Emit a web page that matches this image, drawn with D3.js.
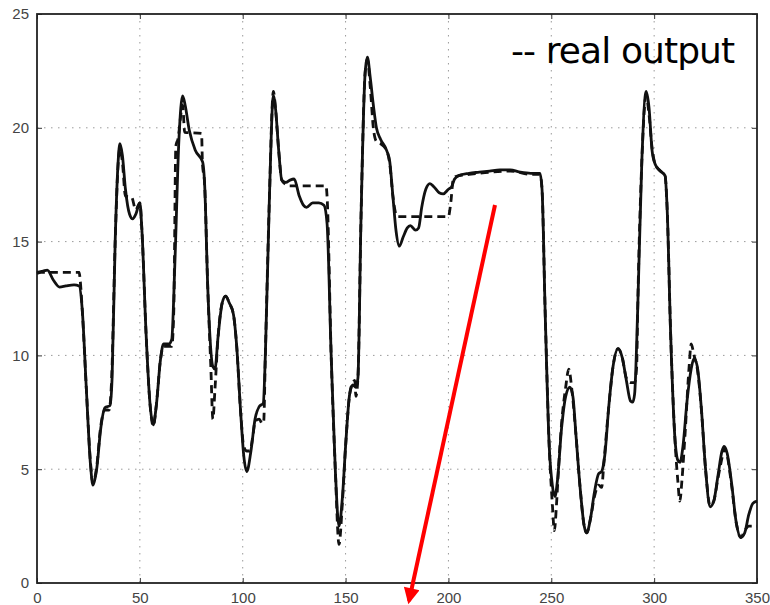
<!DOCTYPE html>
<html>
<head>
<meta charset="utf-8">
<script src="https://cdn.jsdelivr.net/npm/d3@7"></script>
<style>
  html, body { margin: 0; padding: 0; background: #fff; }
  svg { display: block; }
</style>
</head>
<body>
<svg id="chart" width="770" height="605"></svg>
<script>
// Axis ticks
const xTicks = [0, 50, 100, 150, 200, 250, 300, 350];
const yTicks = [0, 5, 10, 15, 20, 25];

// Model output (solid line): [time step, value]
const modelOutput = [
  [0,13.65],[3,13.7],[5,13.75],[8,13.3],[11,13.0],[14,13.05],[18,13.1],[20.5,13.05],
  [22,12.0],[24,8.5],[26,5.2],[27.2,4.3],[29,5.0],[31,6.8],[33,7.7],[35.5,7.8],
  [36.5,9],[38,15],[39.5,18.6],[40.3,19.3],[41.5,18.8],[43,17.3],[45,16.2],[46.5,16.0],
  [48,16.2],[50,16.7],[51,15.5],[53,11],[55,7.8],[56.5,6.95],[58,7.8],[60,9.8],
  [61.5,10.5],[64,10.5],[65.5,10.7],[67,14],[69,19.5],[70.8,21.4],[72,21.0],[74,19.9],
  [77,19.0],[80.5,18.5],[81.5,17.5],[83,13],[85.5,9.5],[86.5,9.4],[88,10.8],[90,12.3],
  [91.7,12.6],[93.5,12.3],[95.5,11.8],[97,10.5],[99,7.5],[100.5,5.6],[102,4.9],[104,5.8],
  [106,7.2],[108,7.75],[110,7.9],[111,10],[113,17],[114.9,21.4],[116,20.8],[117.5,19.0],
  [119,17.7],[121,17.6],[123,17.7],[125,17.75],[127.5,17.0],[129.5,16.6],[131,16.5],
  [134,16.7],[137,16.7],[139.5,16.6],[141,15.8],[143,10],[145,5],[146.8,2.5],[148.5,3.8],
  [150,6],[152,8.3],[153.5,8.7],[155,8.6],[156,9],[157.5,16],[159.5,22.4],[160.6,23.1],
  [162,22.2],[163.5,21.0],[165,20.0],[167,19.5],[170,19.0],[171.5,18.5],[173,17],
  [174.5,15.5],[176.1,14.8],[178,15.2],[180,15.6],[181.5,15.7],[184,15.5],[185.5,15.6],
  [187,16.5],[189,17.3],[191,17.55],[193,17.4],[195.5,17.15],[197.5,17.1],[200,17.3],
  [201.5,17.4],[203,17.75],[205,17.9],[210,18.0],[215,18.05],[220,18.1],[225,18.15],
  [230,18.15],[235,18.05],[240,18.0],[244.5,18.0],[245.5,17.3],[247,12],[249,6],
  [250.5,4.3],[251.8,3.8],[253,4.5],[255,6.8],[257,8.2],[259,8.6],[260.5,8.2],[262,6.5],
  [264,4.2],[266,2.5],[267.2,2.2],[269,2.8],[271,4.0],[273,4.8],[274.5,4.9],[276,5.6],
  [278,7.8],[280,9.5],[282.5,10.3],[284.5,9.9],[286.5,8.9],[288.5,8.0],[289.6,7.95],
  [290.5,8.3],[292,12],[294,18.5],[296.1,21.6],[297.5,20.9],[299,19.0],[300.5,18.4],
  [303,18.1],[305.3,17.9],[306.3,16.5],[308,11],[310,6.5],[311.5,5.4],[312.6,5.3],
  [314,6.0],[316,8.0],[318,9.4],[319.4,9.87],[321,9.5],[323,7.6],[325,5.0],[327.2,3.35],
  [329,3.6],[331,4.7],[333,5.8],[334,6.0],[335.5,5.7],[337.5,4.5],[340,2.6],[342.1,2.0],
  [344,2.2],[346,3.0],[348,3.5],[350,3.6]
];

// Real output (dashed line): [time step, value]
const realOutput = [
  [0,13.6],[2,13.65],[20.5,13.65],[21,13.3],[22,12.0],[24,8.5],[26,5.3],[27.2,4.4],
  [29,5.1],[31,6.9],[33,7.6],[35,7.6],[36.3,9],[38,15],[39.5,18.5],[40.3,19.1],
  [41.5,18.5],[43,17.0],[46,16.95],[48,16.4],[50,16.7],[51,15.5],[53,11],[55,7.8],
  [56.5,6.9],[58,7.8],[60,9.8],[61.5,10.4],[65.5,10.4],[66.5,12],[67.5,19.2],[68.5,19.5],
  [70.8,21.0],[71.8,19.8],[80,19.75],[80.4,18.5],[81.5,17.5],[83,13],[84.5,9.5],
  [85.5,7.2],[86.5,8.5],[88,10.8],[90,12.3],[91.7,12.6],[93.5,12.3],[95.5,11.8],
  [97,10.5],[99,7.5],[100.5,6.0],[102,5.8],[103.5,5.8],[105,6.5],[106,7.1],[108,7.2],
  [109.5,7.0],[110.2,7.1],[111,10],[113,17],[114.9,21.6],[116,20.8],[117.5,19.0],
  [119,17.7],[121,17.5],[122,17.45],[140.5,17.45],[141,17.0],[143,10],[145,5],
  [146.8,1.7],[148.5,3.6],[150,6],[152,8.3],[153.5,8.8],[154.5,8.9],[155,8.2],[156,9],
  [157.5,16],[159.5,22.4],[160.6,23.0],[162,21.8],[163.5,20.0],[165,19.4],[167,19.3],
  [170,19.0],[171.5,18.4],[173,17],[174.5,16.2],[175.5,16.1],[200,16.1],[201,16.6],
  [202.5,17.8],[205,17.9],[210,17.95],[220,18.05],[230,18.1],[240,17.95],[244.5,17.95],
  [245.5,17.3],[247,12],[249,6],[250.5,3.5],[251.5,2.3],[252.5,3.4],[253.5,5],[255,7.0],
  [257,8.6],[258.5,9.4],[260,8.5],[262,6.5],[264,4.2],[266,2.5],[267.2,2.2],[269,2.8],
  [271,3.8],[273,4.3],[274.5,4.2],[275.5,5.2],[278,7.8],[280,9.5],[282.5,10.3],
  [284.5,9.9],[286.5,9.0],[288.5,8.8],[290.5,8.8],[291.5,9.5],[292,12],[294,18.5],
  [296.1,21.4],[297.5,20.6],[299,19.1],[300.5,18.4],[303,18.1],[305.3,17.9],[306.3,16.5],
  [308,11],[310,6.5],[311.5,4.5],[312.5,3.6],[313.5,4.5],[315,6.5],[317,9.5],[318,10.5],
  [319.4,10.0],[321,9.4],[323,7.6],[325,5.0],[327.2,3.4],[329,3.6],[331,4.6],[333,5.5],
  [334,5.9],[335.5,5.6],[337.5,4.4],[340,2.6],[342.1,2.0],[344,2.3],[346,2.5],[350,2.5]
];

const legendText = "-- real output";

const svg = d3.select("#chart");
const plot = { left: 37, right: 757, top: 14, bottom: 583 };

const x = d3.scaleLinear().domain([0, 350]).range([plot.left, plot.right]);
const y = d3.scaleLinear().domain([0, 25]).range([plot.bottom, plot.top]);

// Dotted grid at the interior ticks
const grid = svg.append("g").attr("stroke", "#9a9a9a").attr("stroke-width", 1)
  .attr("stroke-dasharray", "1.5,5.5");
grid.selectAll("line.gx").data(xTicks.filter(d => d > 0 && d < 350)).join("line")
  .attr("x1", d => x(d)).attr("x2", d => x(d))
  .attr("y1", plot.top).attr("y2", plot.bottom);
grid.selectAll("line.gy").data(yTicks.filter(d => d > 0 && d < 25)).join("line")
  .attr("y1", d => y(d)).attr("y2", d => y(d))
  .attr("x1", plot.left).attr("x2", plot.right);

// Axes with inward ticks on all four sides
function styleAxis(g) {
  g.select(".domain").remove();
  g.selectAll(".tick line").attr("stroke", "#333").attr("stroke-width", 1);
  g.selectAll(".tick text").attr("fill", "#444")
    .style("font-family", "'Liberation Sans', Arial, sans-serif").style("font-size", "15px");
}
svg.append("g").attr("transform", `translate(0,${plot.bottom})`)
  .call(d3.axisBottom(x).tickValues(xTicks).tickSize(-5).tickPadding(9))
  .call(styleAxis);
svg.append("g").attr("transform", `translate(0,${plot.top})`)
  .call(d3.axisTop(x).tickValues(xTicks).tickSize(-5).tickFormat(""))
  .call(styleAxis);
svg.append("g").attr("transform", `translate(${plot.left},0)`)
  .call(d3.axisLeft(y).tickValues(yTicks).tickSize(-5).tickPadding(8))
  .call(styleAxis);
svg.append("g").attr("transform", `translate(${plot.right},0)`)
  .call(d3.axisRight(y).tickValues(yTicks).tickSize(-5).tickFormat(""))
  .call(styleAxis);

// Frame
svg.append("rect")
  .attr("x", plot.left).attr("y", plot.top)
  .attr("width", plot.right - plot.left).attr("height", plot.bottom - plot.top)
  .attr("fill", "none").attr("stroke", "#222").attr("stroke-width", 1.8);

const line = d3.line().x(d => x(d[0])).y(d => y(d[1])).curve(d3.curveMonotoneX);

svg.append("path").datum(realOutput)
  .attr("d", line).attr("fill", "none").attr("stroke", "#111")
  .attr("stroke-width", 2.8).attr("stroke-dasharray", "8,5")
  .attr("stroke-linejoin", "round");

svg.append("path").datum(modelOutput)
  .attr("d", line).attr("fill", "none").attr("stroke", "#111")
  .attr("stroke-width", 2.8).attr("stroke-linejoin", "round");

// Legend label
svg.append("text")
  .attr("x", 511).attr("y", 63)
  .style("font-family", "'DejaVu Sans', Verdana, sans-serif").style("font-size", "36px")
  .style("letter-spacing", "-0.9px")
  .attr("fill", "#000")
  .text(legendText);

// Red pointer arrow
const defs = svg.append("defs");
defs.append("marker").attr("id", "arrowhead")
  .attr("viewBox", "0 0 10 10").attr("refX", 8).attr("refY", 5)
  .attr("markerWidth", 4.5).attr("markerHeight", 4).attr("orient", "auto")
  .attr("markerUnits", "strokeWidth")
  .append("path").attr("d", "M0,0 L10,5 L0,10 z").attr("fill", "#ff0000");
svg.append("line")
  .attr("x1", 495).attr("y1", 205).attr("x2", 409).attr("y2", 601)
  .attr("stroke", "#ff0000").attr("stroke-width", 4)
  .attr("marker-end", "url(#arrowhead)");
</script>
</body>
</html>
